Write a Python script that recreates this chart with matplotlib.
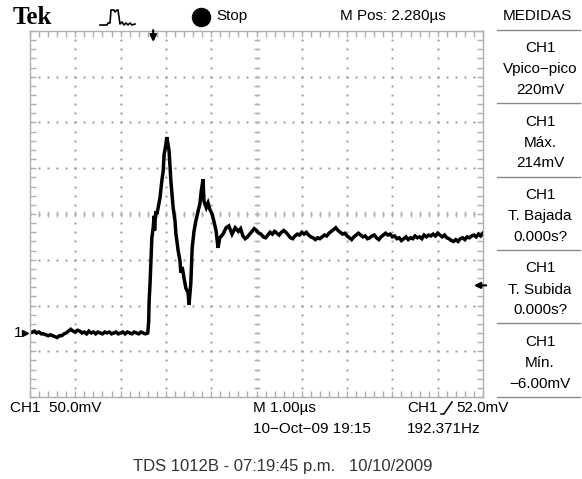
import numpy as np
import matplotlib
matplotlib.use('Agg')
import matplotlib.pyplot as plt
from matplotlib.lines import Line2D

# trace data: time in us, voltage in mV
base_v = [0, 1, 2, 0, 1, -1, -1, -2, -3, -2, -3, -4, -5, -3, -3, -1, 0, 2, 4, 2,
          1, 3, 2, 0, 1, -1, 2, 0, 1, -1, 1, 0, -1, 1, 0, 1, -1, 0, 1, -1,
          0, 1, -1, 1, 0, -1, 1, 0, -1, 1, 0, -1, 0]
pulse_t = [2.62, 2.63, 2.65, 2.69, 2.72, 2.74, 2.75, 2.76, 2.78, 2.80, 2.83, 2.87,
           2.91, 2.94, 2.96, 3.00, 3.02, 3.07, 3.11, 3.16, 3.20, 3.22, 3.27, 3.31,
           3.33, 3.36, 3.40, 3.44, 3.49, 3.51, 3.55, 3.58, 3.62, 3.66, 3.71, 3.75,
           3.78, 3.82, 3.84, 3.89, 3.93, 3.97, 4.02, 4.06, 4.11, 4.15, 4.19, 4.26,
           4.33, 4.39, 4.46, 4.53]
pulse_v = [13, 35, 54, 104, 115, 128, 112, 122, 133, 130, 137, 148,
           166, 177, 195, 206, 214, 199, 166, 137, 123, 109, 90, 79,
           66, 72, 60, 49, 44, 31, 54, 93, 111, 122, 133, 141,
           155, 168, 144, 137, 142, 135, 130, 122, 111, 93, 104, 108,
           115, 117, 108, 115]
settle_v = [111, 114, 106, 103, 105, 108, 111, 114,
            112, 109, 108, 105, 104, 107, 110, 108, 111, 109, 107, 110, 112, 110, 107, 104, 103, 106, 108, 107,
            110, 108, 110, 107, 105, 104, 102, 104, 103, 105, 107, 106, 109, 111, 113, 115, 112, 110, 108, 109,
            106, 104, 102, 105, 107, 109, 107, 105, 106, 103, 104, 106, 107, 104, 102, 105, 107, 109, 107, 108,
            105, 106, 103, 104, 101, 103, 105, 102, 104, 103, 106, 104, 105, 103, 107, 105, 107, 106, 108, 106,
            109, 107, 105, 107, 104, 103, 101, 100, 102, 100, 103, 104, 102, 105, 104, 106, 107, 105, 108, 106,
            109]

base_t = np.linspace(0, 2.6, len(base_v))
settle_t = np.linspace(4.6, 10.0, len(settle_v))
t_us = np.concatenate([base_t, pulse_t, settle_t])
v_mv = np.concatenate([base_v, pulse_v, settle_v])

# scope settings
mv_div = 50
us_div = 1.0
center_mv = 130      # ground is 2.6 div below screen centre
trig_pos_us = 5 - 2.28
trig_level_mv = 52

measures = [('CH1', 'Vpico\u2212pico', '220mV'),
            ('CH1', 'M\u00e1x.', '214mV'),
            ('CH1', 'T. Bajada', '0.000s?'),
            ('CH1', 'T. Subida', '0.000s?'),
            ('CH1', 'M\u00edn.', '\u22126.00mV')]

W, H = 582, 479
sans = ['Liberation Sans', 'DejaVu Sans']
fs = 11

fig = plt.figure(figsize=(W / 100, H / 100), dpi=100)
fig.patch.set_facecolor('white')

def fx(x):
    return x / W

def fy(y):
    return 1 - y / H

ax = fig.add_axes([fx(30), fy(397), 453 / W, 366 / H])
ax.set_xlim(0, 10 * us_div)
ax.set_ylim(center_mv - 4 * mv_div, center_mv + 4 * mv_div)

grey = '#b0b0b0'
for s in ax.spines.values():
    s.set_color(grey)
    s.set_linewidth(1)
ax.set_xticks(np.arange(0, 10.001, 0.2))
ax.set_yticks(np.arange(center_mv - 200, center_mv + 200.1, 10))
ax.tick_params(direction='in', length=4, color=grey, width=1,
               top=True, right=True, labelbottom=False, labelleft=False)

# dotted graticule
fine_x = np.arange(0, 10.001, 0.2)
fine_y = np.arange(center_mv - 200, center_mv + 200.1, 10)
dot = '#9a9a9a'
for gx in range(1, 10):
    ax.plot(np.full(len(fine_y), gx), fine_y, ls='none', marker='s', ms=1.4,
            color=dot, mec='none')
for k in range(-3, 4):
    gy = center_mv + k * mv_div
    ax.plot(fine_x, np.full(len(fine_x), gy), ls='none', marker='s', ms=1.4,
            color=dot, mec='none')
# centre cross with tick marks
ax.plot(fine_x, np.full(len(fine_x), center_mv), ls='none', marker='|', ms=5,
        color='#b4b4b4', mew=1)
ax.plot(np.full(len(fine_y), 5), fine_y, ls='none', marker='_', ms=5,
        color='#b4b4b4', mew=1)

ax.plot(t_us, v_mv, color='black', lw=2.5, solid_joinstyle='miter')

# trigger position arrow (top) and trigger level arrow (right)
ax.annotate('', xy=(trig_pos_us, center_mv + 200 - 12), xytext=(trig_pos_us, center_mv + 200 + 1),
            arrowprops=dict(arrowstyle='-|>', color='black', lw=1.5, mutation_scale=10,
                            shrinkA=0, shrinkB=0), annotation_clip=False)
ax.annotate('', xy=(9.8, trig_level_mv), xytext=(10.07, trig_level_mv),
            arrowprops=dict(arrowstyle='-|>', color='black', lw=1.5, mutation_scale=9,
                            shrinkA=0, shrinkB=0), annotation_clip=False)
# ground marker
ax.plot([-0.12], [0], marker='>', ms=5, color='black', clip_on=False)
fig.text(fx(14), fy(333), '1', fontsize=fs, family=sans, va='center', ha='left')

# header
fig.text(fx(13), fy(17), 'Tek', fontsize=18, family='Liberation Serif', weight='bold',
         va='center', ha='left')
icon_x = [100, 107, 108, 110, 111, 114, 115, 117, 118, 120, 122, 124, 126, 128, 130, 132, 135]
icon_y = [25, 25, 23, 23, 10, 10, 12, 10, 10, 24, 22, 25, 23, 25, 23, 25, 24]
fig.add_artist(Line2D([fx(x) for x in icon_x], [fy(y) for y in icon_y], color='black', lw=1.2))
fig.add_artist(Line2D([fx(201)], [fy(17)], marker='o', ms=13, color='black'))
fig.text(fx(216), fy(16), 'Stop', fontsize=fs, family=sans, va='center', ha='left')
fig.text(fx(340), fy(16), 'M Pos: 2.280\u00b5s', fontsize=fs, family=sans, va='center', ha='left')
fig.text(fx(537), fy(16), 'MEDIDAS', fontsize=fs, family=sans, va='center', ha='center')

# measurement panel
for yy in [30, 103, 177, 250, 323, 397]:
    fig.add_artist(Line2D([fx(497), fx(580)], [fy(yy), fy(yy)], color='#8a8a8a', lw=1))
for i, (ch, name, val) in enumerate(measures):
    y0 = 48 + i * 73.5
    for j, s in enumerate((ch, name, val)):
        fig.text(fx(540), fy(y0 + j * 21), s, fontsize=fs, family=sans,
                 va='center', ha='center')

# footer
fig.text(fx(10), fy(408), 'CH1  50.0mV', fontsize=fs, family=sans, va='center', ha='left')
fig.text(fx(253), fy(408), 'M 1.00\u00b5s', fontsize=fs, family=sans, va='center', ha='left')
fig.text(fx(407), fy(408), 'CH1', fontsize=fs, family=sans, va='center', ha='left')
fig.add_artist(Line2D([fx(441), fx(444), fx(452)], [fy(414), fy(414), fy(402)], color='black', lw=1.1))
fig.text(fx(456), fy(408), '52.0mV', fontsize=fs, family=sans, va='center', ha='left')
fig.text(fx(253), fy(429), '10\u2212Oct\u221209 19:15', fontsize=fs, family=sans, va='center', ha='left')
fig.text(fx(407), fy(429), '192.371Hz', fontsize=fs, family=sans, va='center', ha='left')
fig.text(fx(283), fy(466), 'TDS 1012B - 07:19:45 p.m.   10/10/2009', fontsize=12,
         family=sans, color='#333333', va='center', ha='center')

fig.savefig('out.png', dpi=100)
